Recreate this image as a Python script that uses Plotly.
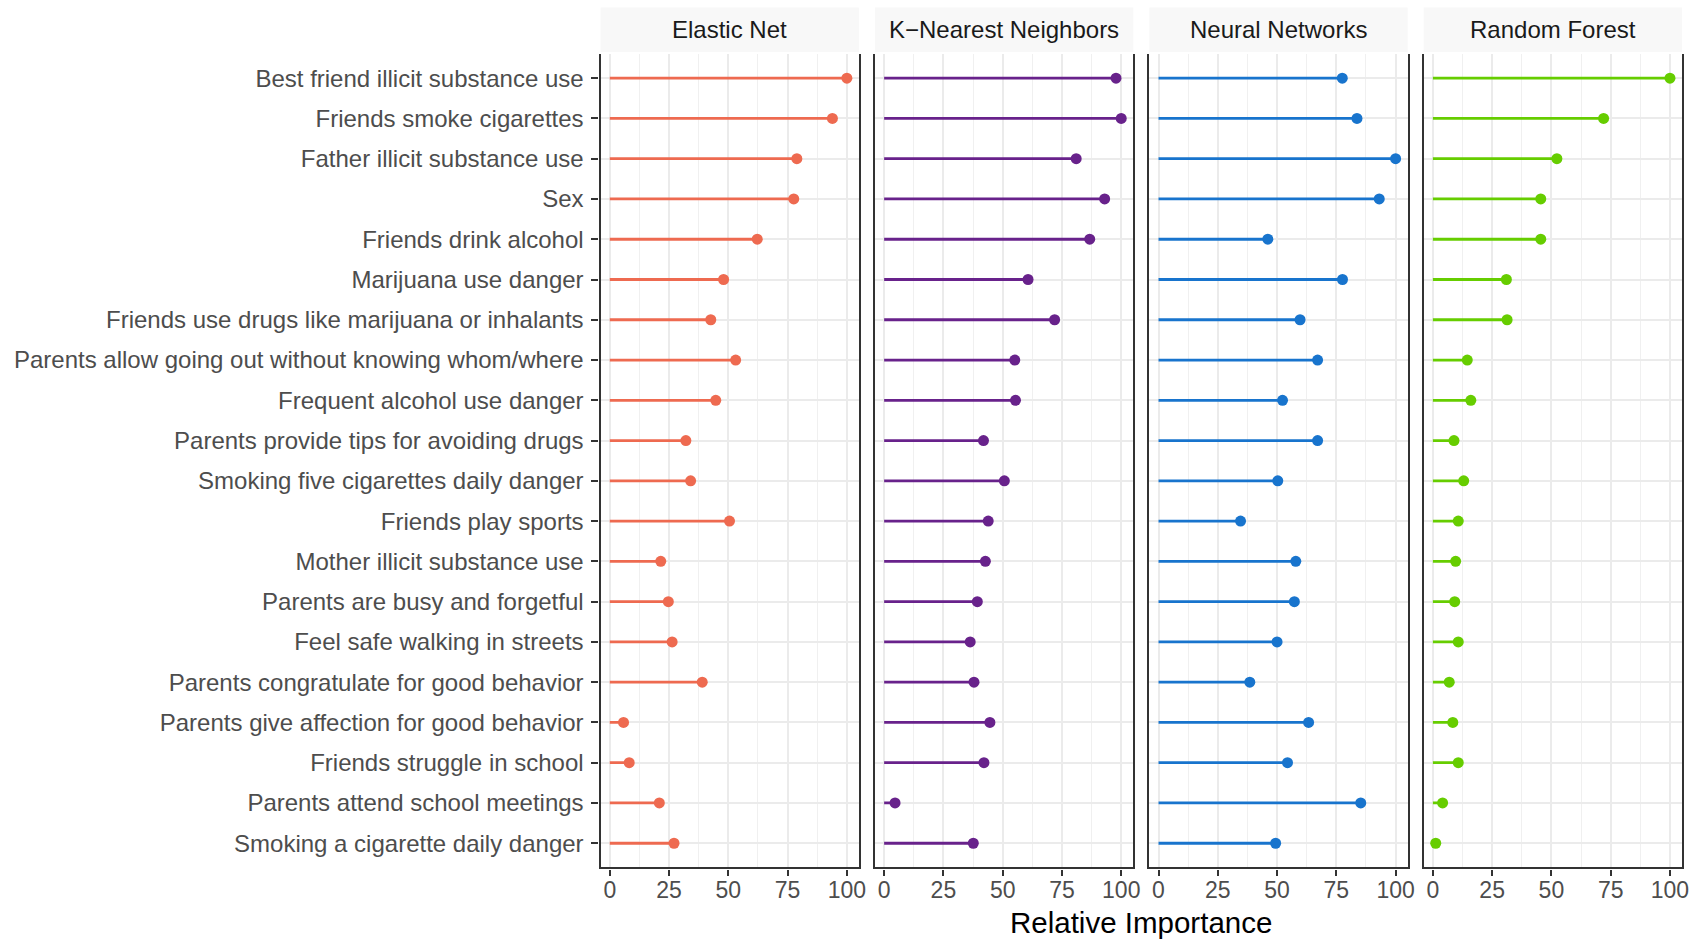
import plotly.graph_objects as go

# ---------------- data ----------------
features = [
    "Best friend illicit substance use",
    "Friends smoke cigarettes",
    "Father illicit substance use",
    "Sex",
    "Friends drink alcohol",
    "Marijuana use danger",
    "Friends use drugs like marijuana or inhalants",
    "Parents allow going out without knowing whom/where",
    "Frequent alcohol use danger",
    "Parents provide tips for avoiding drugs",
    "Smoking five cigarettes daily danger",
    "Friends play sports",
    "Mother illicit substance use",
    "Parents are busy and forgetful",
    "Feel safe walking in streets",
    "Parents congratulate for good behavior",
    "Parents give affection for good behavior",
    "Friends struggle in school",
    "Parents attend school meetings",
    "Smoking a cigarette daily danger",
]

models = ["Elastic Net", "K\u2212Nearest Neighbors", "Neural Networks", "Random Forest"]

elastic_net = [100, 93.9, 78.9, 77.6, 62.2, 48.0, 42.6, 53.1, 44.7, 32.1,
               34.1, 50.5, 21.5, 24.7, 26.3, 39.0, 5.8, 8.2, 20.9, 27.1]
knn = [97.8, 100, 81.0, 93.0, 86.7, 60.7, 71.9, 55.1, 55.4, 41.9,
       50.7, 43.9, 42.7, 39.3, 36.3, 37.9, 44.6, 42.1, 4.6, 37.6]
neural_net = [77.5, 83.7, 100, 93.1, 46.1, 77.6, 59.7, 67.1, 52.3, 67.1,
              50.3, 34.6, 57.9, 57.3, 50.0, 38.5, 63.3, 54.4, 85.3, 49.4]
random_forest = [100, 72.0, 52.3, 45.5, 45.5, 31.0, 31.3, 14.5, 16.0, 8.9,
                 13.0, 10.7, 9.6, 9.2, 10.7, 6.9, 8.4, 10.7, 4.1, 1.2]

series = [elastic_net, knn, neural_net, random_forest]
colors = ["#EE6A50", "#68228B", "#1874CD", "#66CD00"]

x_ticks = [0, 25, 50, 75, 100]
x_minor = [12.5, 37.5, 62.5, 87.5]

# ---------------- layout geometry (pixels) ----------------
W, H = 1705, 940
panel_left = 603.0
panel_w = 259.5
gap = 16.0
panel_top = 54.0
panel_bottom = 867.4
strip_top = 7.5
strip_bottom = 52.0

FONT = "Liberation Sans, Arial, sans-serif"

fig = go.Figure()

for i, (name, vals, col) in enumerate(zip(models, series, colors)):
    ax = "" if i == 0 else str(i + 1)
    seg_x, seg_y = [], []
    for f, v in zip(features, vals):
        seg_x += [0, v, None]
        seg_y += [f, f, None]
    fig.add_trace(go.Scatter(
        x=seg_x, y=seg_y, mode="lines",
        line=dict(color=col, width=2.8),
        xaxis="x" + ax, yaxis="y" + ax, showlegend=False, hoverinfo="skip"))
    fig.add_trace(go.Scatter(
        x=vals, y=features, mode="markers",
        marker=dict(color=col, size=11, line=dict(width=0)),
        xaxis="x" + ax, yaxis="y" + ax, showlegend=False))

layout = dict(
    width=W, height=H,
    margin=dict(l=0, r=0, t=0, b=0),
    paper_bgcolor="white", plot_bgcolor="white",
    font=dict(family=FONT),
)

shapes = []
annotations = []
ydom = [1 - panel_bottom / H, 1 - panel_top / H]
for i, name in enumerate(models):
    x0 = panel_left + i * (panel_w + gap)
    x1 = x0 + panel_w
    xdom = [x0 / W, x1 / W]
    ax = "" if i == 0 else str(i + 1)
    layout["xaxis" + ax] = dict(
        domain=xdom, anchor="y" + ax, range=[-3.9, 105.1],
        tickvals=x_ticks, ticktext=[str(t) for t in x_ticks],
        ticks="outside", ticklen=6, tickwidth=2, tickcolor="#333333",
        ticklabelstandoff=-5,
        tickfont=dict(size=23, color="#4D4D4D", family=FONT),
        showline=True, linecolor="#333333", linewidth=2.2, mirror=False,
        showgrid=True, gridcolor="#EBEBEB", gridwidth=2,
        minor=dict(tickvals=x_minor, showgrid=True, gridcolor="#F0F0F0", gridwidth=1),
        zeroline=False, fixedrange=True,
    )
    layout["yaxis" + ax] = dict(
        domain=ydom, anchor="x" + ax, type="category",
        categoryorder="array", categoryarray=features[::-1],
        range=[-0.6, len(features) - 0.4],
        showticklabels=(i == 0),
        ticks="outside" if i == 0 else "", ticklen=7, tickwidth=2, tickcolor="#333333",
        ticklabelstandoff=3,
        tickfont=dict(size=24, color="#4D4D4D", family=FONT),
        showline=True, linecolor="#333333", linewidth=2.2, mirror=True,
        showgrid=True, gridcolor="#EBEBEB", gridwidth=2,
        zeroline=False, automargin=False, fixedrange=True,
    )
    shapes.append(dict(
        type="rect", xref="paper", yref="paper",
        x0=x0 / W, x1=x1 / W, y0=1 - strip_bottom / H, y1=1 - strip_top / H,
        fillcolor="#F8F8F8", line=dict(width=0), layer="below"))
    annotations.append(dict(
        text=name, xref="paper", yref="paper",
        x=(x0 + x1) / 2 / W, y=1 - (strip_top + strip_bottom) / 2 / H,
        xanchor="center", yanchor="middle", showarrow=False,
        font=dict(size=24, color="#1A1A1A", family=FONT)))

total_left = panel_left
total_right = panel_left + 4 * panel_w + 3 * gap
annotations.append(dict(
    text="Relative Importance", xref="paper", yref="paper",
    x=(total_left + total_right) / 2 / W, y=1 - 922 / H,
    xanchor="center", yanchor="middle", showarrow=False,
    font=dict(size=29.5, color="#000000", family=FONT)))

layout["shapes"] = shapes
layout["annotations"] = annotations
fig.update_layout(**layout)

fig.write_html("out.html")
